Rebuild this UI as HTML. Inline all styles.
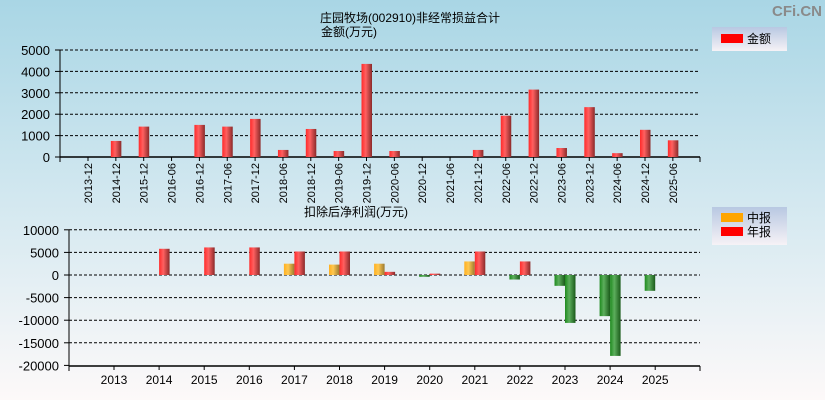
<!DOCTYPE html>
<html><head><meta charset="utf-8"><style>
body{margin:0;width:825px;height:400px;overflow:hidden}
svg{display:block;font-family:"Liberation Sans","Noto Sans CJK SC",sans-serif}
</style></head><body>
<svg id="c" width="825" height="400" xmlns="http://www.w3.org/2000/svg">
<defs>
<linearGradient id="bg" x1="0" y1="0" x2="0" y2="1"><stop offset="0" stop-color="#a9d6e5"/><stop offset="0.5" stop-color="#d3e8f0"/><stop offset="1" stop-color="#fdf9f9"/></linearGradient>
<linearGradient id="red" x1="0" x2="1"><stop offset="0" stop-color="#ff2a2a"/><stop offset="0.4" stop-color="#ff6060"/><stop offset="1" stop-color="#8a2a2a"/></linearGradient>
<linearGradient id="org" x1="0" x2="1"><stop offset="0" stop-color="#ffb020"/><stop offset="0.4" stop-color="#ffc850"/><stop offset="1" stop-color="#9a7a30"/></linearGradient>
<linearGradient id="grn" x1="0" x2="1"><stop offset="0" stop-color="#1e8a1e"/><stop offset="0.4" stop-color="#5cae5c"/><stop offset="1" stop-color="#1a5a1a"/></linearGradient>
<linearGradient id="lg" x1="0" y1="0" x2="0" y2="1"><stop offset="0" stop-color="#b8c8e2"/><stop offset="1" stop-color="#f6f2f6"/></linearGradient>
</defs>
<rect width="825" height="400" fill="url(#bg)"/>
<text x="822" y="16" text-anchor="end" font-size="15" font-weight="bold" fill="#8a8a8a">CFi.CN</text>
<text x="410" y="22" text-anchor="middle" font-size="12">庄园牧场(002910)非经常损益合计</text>
<text x="349" y="36" text-anchor="middle" font-size="12">金额(万元)</text>
<g><rect x="712" y="27" width="75" height="24" fill="url(#lg)"/><rect x="721" y="34" width="22" height="9" fill="#f00"/><text x="747" y="43" font-size="12">金额</text></g>
<text x="356" y="216" text-anchor="middle" font-size="12">扣除后净利润(万元)</text>
<g><rect x="712" y="207" width="75" height="38" fill="url(#lg)"/><rect x="721" y="213" width="22" height="9" fill="#ffa500"/><text x="747" y="222" font-size="12">中报</text><rect x="721" y="227" width="22" height="9" fill="#f00"/><text x="747" y="236" font-size="12">年报</text></g>
<g id="top"></g><g id="bot"></g>
</svg>
<script>
const topCats=["2013-12","2014-12","2015-12","2016-06","2016-12","2017-06","2017-12","2018-06","2018-12","2019-06","2019-12","2020-06","2020-12","2021-06","2021-12","2022-06","2022-12","2023-06","2023-12","2024-06","2024-12","2025-06"];
const topVals=[0,750,1420,0,1500,1420,1780,330,1310,280,4350,280,0,0,330,1930,3150,420,2330,180,1270,780];
const topTicks=[0,1000,2000,3000,4000,5000];
const years=["2013","2014","2015","2016","2017","2018","2019","2020","2021","2022","2023","2024","2025"];
const interim=[null,null,null,null,2500,2300,2500,-400,3000,-1000,-2400,-9100,-3500];
const annual=[null,5800,6100,6100,5200,5200,700,300,5200,3000,-10600,-17900,null];
const botTicks=[10000,5000,0,-5000,-10000,-15000,-20000];
const NS="http://www.w3.org/2000/svg";
function mk(p,t,a,txt){const e=document.createElementNS(NS,t);for(const k in a)e.setAttribute(k,a[k]);if(txt!=null)e.textContent=txt;p.appendChild(e);return e;}
// top chart
const T=document.getElementById('top');
const ty=v=>157-v*(107/5000), tx=i=>88+i*27.85;
topTicks.forEach(v=>{
 if(v>0){const l=mk(T,'line',{x1:60,x2:700,y1:ty(v),y2:ty(v),stroke:'#000','stroke-dasharray':'3,2'});}
 const t=mk(T,'text',{x:50,y:ty(v)+5,'text-anchor':'end','font-size':13},String(v));
 
 mk(T,'line',{x1:55,x2:60,y1:ty(v),y2:ty(v),stroke:'#000'});
});
mk(T,'line',{x1:60,x2:60,y1:50,y2:162,stroke:'#000'});
mk(T,'line',{x1:60,x2:700,y1:157,y2:157,stroke:'#000','stroke-width':1.5});
mk(T,'line',{x1:700,x2:700,y1:157,y2:162,stroke:'#000'});
topCats.forEach((c,i)=>{
 const x=tx(i);
 if(topVals[i]>0){const r=mk(T,'rect',{x:x-5,y:ty(topVals[i]),width:10.5,height:157-ty(topVals[i]),fill:'url(#red)'});
 }
 mk(T,'line',{x1:x,x2:x,y1:157,y2:161,stroke:'#000'});
 const t=mk(T,'text',{x:0,y:0,'font-size':11,'text-anchor':'end',transform:`translate(${x+4},163) rotate(-90)`},c);
 
});
// bottom chart
const B=document.getElementById('bot');
const by=v=>275-v*(22.6/5000), bx=i=>114+i*45.1;
botTicks.forEach(v=>{
 if(v>-20000){const l=mk(B,'line',{x1:69,x2:700,y1:by(v),y2:by(v),stroke:'#000','stroke-dasharray':'3,2'});}
 const t=mk(B,'text',{x:59,y:by(v)+5,'text-anchor':'end','font-size':13},String(v));
 
 mk(B,'line',{x1:64,x2:69,y1:by(v),y2:by(v),stroke:'#000'});
});
mk(B,'line',{x1:69,x2:69,y1:230,y2:371,stroke:'#000'});
mk(B,'line',{x1:69,x2:700,y1:366,y2:366,stroke:'#000','stroke-width':1.5});
mk(B,'line',{x1:700,x2:700,y1:366,y2:371,stroke:'#000'});
function bar(v,x,pos){const y0=by(0),y1=by(v);return mk(B,'rect',{x:x,y:Math.min(y0,y1),width:10.5,height:Math.max(1,Math.abs(y1-y0)),fill:v<0?'url(#grn)':pos});}
years.forEach((yr,i)=>{
 const x=bx(i);
 if(interim[i]!=null){const r=bar(interim[i],x-10.5,'url(#org)');}
 if(annual[i]!=null){const r=bar(annual[i],x,'url(#red)');}
 mk(B,'line',{x1:x,x2:x,y1:366,y2:370,stroke:'#000'});
 const t=mk(B,'text',{x:x,y:384,'text-anchor':'middle','font-size':12},yr);
 
});
</script>
</body></html>
